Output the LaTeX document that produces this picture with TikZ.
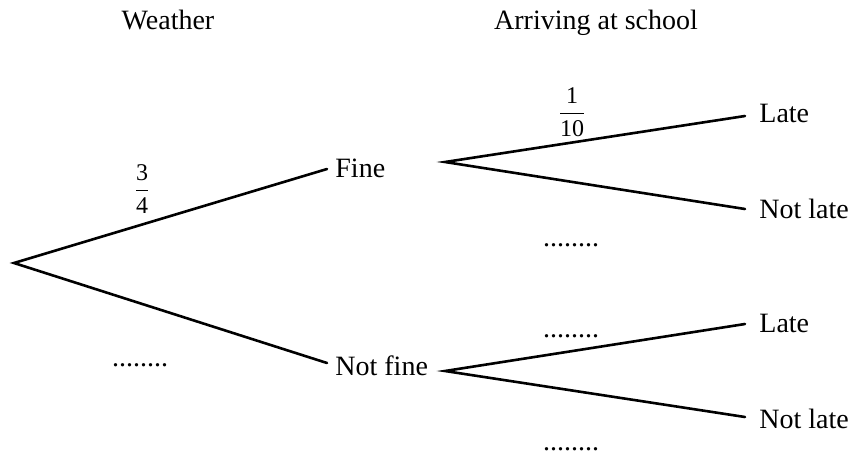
\documentclass[tikz,border=0pt]{standalone}
\usepackage{amsmath}
\usepackage{fontspec}
\setmainfont{Liberation Serif}
\begin{document}
\begin{tikzpicture}[x=0.5pt,y=-0.5pt,
  br/.style={line width=1.3pt, line cap=round},
  lbl/.style={font=\fontsize{14}{16}\selectfont, inner sep=0pt, anchor=base west},
  hdr/.style={font=\fontsize{14}{16}\selectfont, inner sep=0pt, anchor=base},
  blank/.style={font=\fontsize{14}{16}\selectfont, inner sep=0pt, anchor=base},
  frc/.style={font=\fontsize{12}{14}\selectfont, inner sep=0pt}]
\useasboundingbox (0,0) rectangle (857,456);

% headers
\node[hdr] (hweather) at (168,29) {Weather};
\node[hdr] (harrive) at (596,29) {Arriving at school};

% branch points
\coordinate (root) at (14,263);
\coordinate (fineIn) at (327,169);
\coordinate (notfineIn) at (327,363);
\coordinate (fineOut) at (445,162);
\coordinate (notfineOut) at (445,371);
\coordinate (lateA) at (745,116);
\coordinate (notlateA) at (745,209);
\coordinate (lateB) at (745,324);
\coordinate (notlateB) at (745,417);

% labels
\node[lbl] (fine) at (335,177) {Fine};
\node[lbl] (notfine) at (335,375) {Not fine};
\node[lbl] (late1) at (759,122) {Late};
\node[lbl] (notlate1) at (759,218) {Not late};
\node[lbl] (late2) at (759,332) {Late};
\node[lbl] (notlate2) at (759,428) {Not late};

% branches
\draw[br] (fineIn) -- (root) -- (notfineIn);
\draw[br] (lateA) -- (fineOut) -- (notlateA);
\draw[br] (lateB) -- (notfineOut) -- (notlateB);

% probabilities
\node[frc] (p34) at (142,189) {$\dfrac{\text{3}}{\text{4}}$};
\node[frc] (p110) at (572,112) {$\dfrac{\text{1}}{\text{10}}$};
\node[blank] (d1) at (140,366) {........};
\node[blank] (d2) at (571,246) {........};
\node[blank] (d3) at (571,337) {........};
\node[blank] (d4) at (571,450) {........};
\end{tikzpicture}
\end{document}
